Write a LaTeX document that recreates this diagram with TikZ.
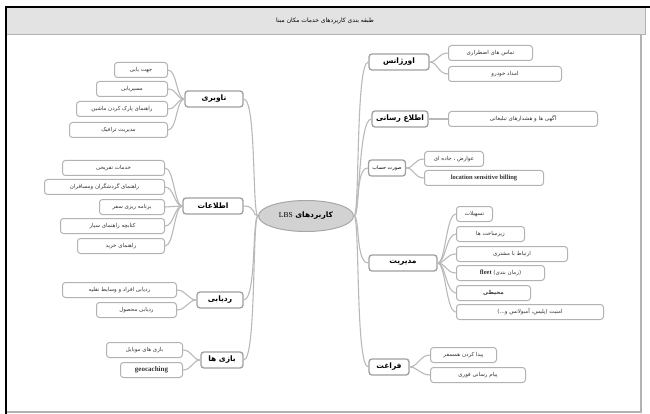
\documentclass[tikz,border=0pt]{standalone}
\usepackage{fontspec}
\setmainfont{Liberation Serif}
\newfontfamily\arabicfont[Script=Arabic]{DejaVu Sans}
\usetikzlibrary{shapes.geometric}
\TeXXeTstate=1
\newcommand{\fa}[1]{{\arabicfont\beginR #1\endR}}
\newcommand{\lat}[1]{\beginL{\rmfamily\bfseries #1}\endL}

\begin{document}
\begin{tikzpicture}[x=1pt,y=-1pt]
        \tikzstyle{every path}=[line width=0.9pt]

        \tikzstyle{leaf}=[draw=gray!60,line width=1pt,rounded corners=3pt,fill=white,minimum height=15pt,inner sep=1pt,font=\fontsize{5.5}{6}\selectfont,text=black!80]
        \tikzstyle{topic}=[draw=gray!75,line width=1.3pt,rounded corners=3pt,fill=white,minimum height=16pt,inner sep=1pt,font=\fontsize{7.5}{8}\selectfont\bfseries]
        \tikzstyle{root}=[ellipse,draw=gray!70,fill=gray!35,line width=1pt,minimum width=95pt,minimum height=31pt,inner sep=0pt,font=\fontsize{7.5}{8}\selectfont\bfseries]
        \tikzstyle{link}=[draw=gray!55,line width=1.1pt]

        \useasboundingbox (0,0) rectangle (650,414);

        % frame and title bar
        \fill[gray!22] (6,8) rectangle (645,34);
        \draw[gray!60,line width=0.8pt] (645,8) -- (645,34) -- (6,34);
        \draw[line width=2pt] (5,7) -- (650,7);
        \draw[gray!60,line width=1.5pt] (641,34) -- (641,412) -- (6,412);
        \draw[line width=2.5pt] (6,6) -- (6,414);
        \node[font=\fontsize{6}{7}\selectfont] (title) at (325,21) {\fa{طبقه بندی کاربردهای خدمات مکان مبنا}};

        \node[root] (lbs) at (306,216) {\fa{کاربردهای \lat{\mdseries LBS}}};

        % left topics
        \node[topic,minimum width=58pt] (nav) at (214,99) {\fa{ناوبری}};
        \node[topic,minimum width=60pt] (info) at (213,206) {\fa{اطلاعات}};
        \node[topic,minimum width=46pt] (trk) at (220,300) {\fa{ردیابی}};
        \node[topic,minimum width=42pt] (game) at (222,360) {\fa{بازی ها}};

        % right topics
        \node[topic,minimum width=60pt] (emg) at (399,62) {\fa{اورژانس}};
        \node[topic,minimum width=56pt] (ann) at (400,119) {\fa{اطلاع رسانی}};
        \node[topic,minimum width=37pt,font=\fontsize{5}{6}\selectfont] (bill) at (387,168) {\fa{صورت حساب}};
        \node[topic,minimum width=68pt] (mgmt) at (403,263) {\fa{مدیریت}};
        \node[topic,minimum width=40pt] (leis) at (389,367) {\fa{فراغت}};

        \foreach \n in {nav,info,trk,game}
            \draw[link] (lbs.west) .. controls +(-6,0) and +(13,0) .. (\n.east);
        \foreach \n in {emg,ann,bill,mgmt,leis}
            \draw[link] (lbs.east) .. controls +(6,0) and +(-13,0) .. (\n.west);

        % left leaves, right edge given
        \foreach \n/\p/\x/\y/\w/\t in {
            nav1/nav/168/70/53/{جهت یابی},
            nav2/nav/168/89/71/{مسیریابی},
            nav3/nav/168/109/91/{راهنمای پارک کردن ماشین},
            nav4/nav/168/130/98/{مدیریت ترافیک},
            info1/info/165/168/102/{خدمات تفریحی},
            info2/info/165/187/120/{راهنمای گردشگران ومسافران},
            info3/info/165/207/65/{برنامه ریزی سفر},
            info4/info/165/226/104/{کتابچه راهنمای سیار},
            info5/info/165/246/87/{راهنمای خرید},
            trk1/trk/177/290/114/{ردیابی افراد و وسایط نقلیه},
            trk2/trk/177/310/80/{ردیابی محصول},
            game1/game/183/350/76/{بازی های موبایل},
            game2/game/183/370/62/{\lat{\fontsize{7}{8}\selectfont geocaching}}} {
            \node[leaf,anchor=east,minimum width=\w pt] (\n) at (\x,\y) {\fa{\t}};
            \draw[link] (\p.west) .. controls +(-8,0) and +(9,0) .. (\n.east);
        }

        % right leaves, left edge given
        \foreach \n/\p/\x/\y/\w/\t in {
            emg1/emg/448/53/84/{تماس های اضطراری},
            emg2/emg/448/74/113/{امداد خودرو},
            ann1/ann/448/119/149/{آگهی ها و هشدارهای تبلیغاتی},
            bill1/bill/424/159/59/{عوارض ، جاده ای},
            bill2/bill/424/178/119/{\lat{\fontsize{6.5}{7}\selectfont location sensitive billing}},
            mg1/mgmt/456/214/36/{تسهیلات},
            mg2/mgmt/456/234/68/{زیرساخت ها},
            mg3/mgmt/456/254/111/{ارتباط با مشتری},
            mg4/mgmt/456/273/88/{(زمان بندی) \lat{\fontsize{6.5}{7}\selectfont fleet}},
            mg5/mgmt/456/293/74/{\bfseries محیطی},
            mg6/mgmt/456/312/147/{امنیت (پلیس، آمبولانس و...)},
            leis1/leis/430/355/66/{پیدا کردن همسفر},
            leis2/leis/430/375/95/{پیام رسانی فوری}} {
            \node[leaf,anchor=west,minimum width=\w pt] (\n) at (\x,\y) {\fa{\t}};
            \draw[link] (\p.east) .. controls +(8,0) and +(-10,0) .. (\n.west);
        }
\end{tikzpicture}
\end{document}
